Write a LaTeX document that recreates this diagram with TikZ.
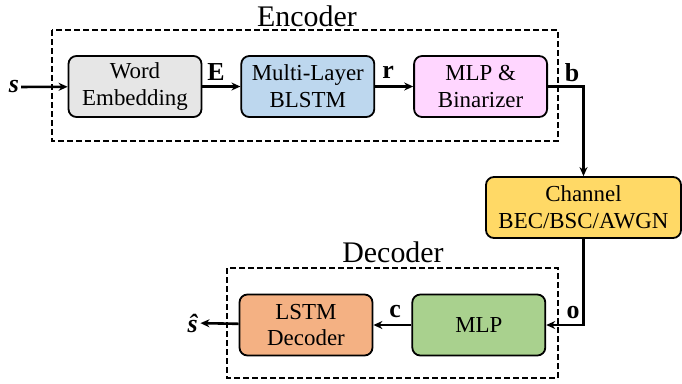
\documentclass[tikz,border=0pt]{standalone}
\usepackage{fontspec}
\setmainfont{Liberation Serif}
\usepackage{xcolor}
\usetikzlibrary{arrows.meta, positioning}

\definecolor{embedfill}{HTML}{E6E6E6}
\definecolor{blstmfill}{HTML}{BDD7EE}
\definecolor{binfill}{HTML}{FFD6FF}
\definecolor{chanfill}{HTML}{FFD966}
\definecolor{lstmfill}{HTML}{F4B183}
\definecolor{mlpfill}{HTML}{A9D18E}

\begin{document}
\begin{tikzpicture}[
        x=1bp, y=-1bp,
        box/.style={rectangle, draw, line width=1.8bp, rounded corners=8bp, minimum height=61bp, minimum width=133bp, align=center, font=\fontsize{23}{27}\selectfont},
        arrow/.style={-{Stealth[length=9bp,width=8bp]}, line width=2.6bp},
        group/.style={draw, dash pattern=on 6bp off 3bp, line width=1.5bp},
        sig/.style={font=\fontsize{26}{30}\selectfont\bfseries, inner sep=2bp},
        title/.style={font=\fontsize{30}{34}\selectfont},
        node distance=38bp
    ]
        \useasboundingbox (0,0) rectangle (682,383);

        % Encoder
        \draw[group] (52,30) rectangle (558,141);
        \node[title] (enctitle) at (307,16) {Encoder};
        \node[box, fill=embedfill] (embed) at (135,86.5) {Word\\Embedding};
        \node[box, fill=blstmfill, right=of embed] (blstm) {Multi-Layer\\BLSTM};
        \node[box, fill=binfill, right=of blstm] (binar) {MLP \&\\Binarizer};

        % Channel
        \node[box, fill=chanfill, minimum width=195bp] (chan) at (583.5,207.5) {Channel\\BEC/BSC/AWGN};

        % Decoder
        \draw[group] (227,268) rectangle (558,378);
        \node[title] (dectitle) at (393,252) {Decoder};
        \node[box, fill=lstmfill] (lstm) at (306,325) {LSTM\\Decoder};
        \node[box, fill=mlpfill, right=of lstm] (mlp) {MLP};

        % Signals
        \node[sig] (s) at (14,87) {\textit{s}};
        \node[sig] (E) at (216,72) {E};
        \node[sig] (r) at (388,72) {r};
        \node[sig] (b) at (572,73) {b};
        \node[sig] (o) at (573,313) {o};
        \node[sig] (c) at (395,312) {c};
        \node[sig] (shat) at (193,323) {\textit{\^{s}}};

        % Arrows
        \draw[arrow] (s) -- (embed);
        \draw[arrow] (embed) -- (blstm);
        \draw[arrow] (blstm) -- (binar);
        \draw[arrow] (binar.east) -| (chan.north);
        \draw[arrow] (chan.south) |- (mlp.east);
        \draw[arrow] (mlp) -- (lstm);
        \draw[arrow] (lstm) -- (shat);
    \end{tikzpicture}
\end{document}
